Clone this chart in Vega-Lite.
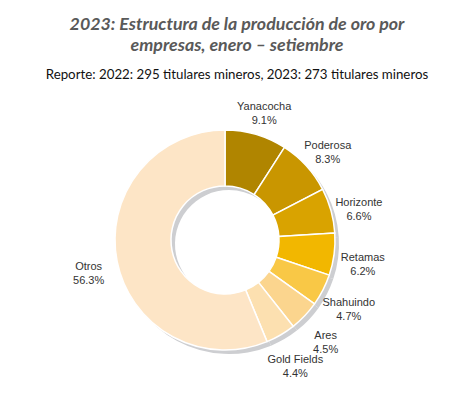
{
  "$schema": "https://vega.github.io/schema/vega-lite/v6.json",
  "width": 450,
  "height": 290,
  "autosize": "none",
  "padding": {"left": 0, "right": 14, "top": 95, "bottom": 20},
  "background": "white",
  "title": {
    "text": ["2023: Estructura de la producción de oro por", "empresas, enero – setiembre"],
    "subtitle": "Reporte: 2022: 295 titulares mineros, 2023: 273 titulares mineros",
    "anchor": "middle",
    "dx": 12,
    "font": "Lato",
    "fontSize": 17.8,
    "fontStyle": "italic",
    "fontWeight": "bold",
    "color": "#595959",
    "lineHeight": 21,
    "subtitleFont": "Lato",
    "subtitleFontSize": 13.3,
    "subtitleColor": "#111111",
    "subtitlePadding": 13,
    "offset": 14
  },
  "data": {
    "values": [
      {"empresa": "Yanacocha", "pct": 9.1, "orden": 1},
      {"empresa": "Poderosa", "pct": 8.3, "orden": 2},
      {"empresa": "Horizonte", "pct": 6.6, "orden": 3},
      {"empresa": "Retamas", "pct": 6.2, "orden": 4},
      {"empresa": "Shahuindo", "pct": 4.7, "orden": 5},
      {"empresa": "Ares", "pct": 4.5, "orden": 6},
      {"empresa": "Gold Fields", "pct": 4.4, "orden": 7},
      {"empresa": "Otros", "pct": 56.3, "orden": 8}
    ]
  },
  "transform": [
    {"calculate": "[datum.empresa, format(datum.pct, '.1f') + '%']", "as": "etiqueta"}
  ],
  "encoding": {
    "theta": {"field": "pct", "type": "quantitative", "stack": true},
    "order": {"field": "orden", "type": "quantitative"}
  },
  "view": {"stroke": null},
  "layer": [
    {
      "mark": {"type": "arc", "innerRadius": 54, "outerRadius": 110, "xOffset": 4, "yOffset": 4, "color": "#CDCED1"}
    },
    {
      "mark": {"type": "arc", "innerRadius": 54, "outerRadius": 110, "stroke": "white", "strokeWidth": 1.5},
      "encoding": {
        "color": {
          "field": "empresa",
          "type": "nominal",
          "sort": ["Yanacocha", "Poderosa", "Horizonte", "Retamas", "Shahuindo", "Ares", "Gold Fields", "Otros"],
          "scale": {
            "domain": ["Yanacocha", "Poderosa", "Horizonte", "Retamas", "Shahuindo", "Ares", "Gold Fields", "Otros"],
            "range": ["#B08500", "#C99600", "#D9A300", "#F2B700", "#F9C846", "#FBD58E", "#FCE0B0", "#FDE5C6"]
          },
          "legend": null
        }
      }
    },
    {
      "mark": {"type": "text", "radius": 139, "font": "Liberation Sans", "fontSize": 11, "color": "#333333", "lineHeight": 14, "baseline": "middle", "align": "center"},
      "encoding": {
        "text": {"field": "etiqueta"}
      }
    }
  ]
}
